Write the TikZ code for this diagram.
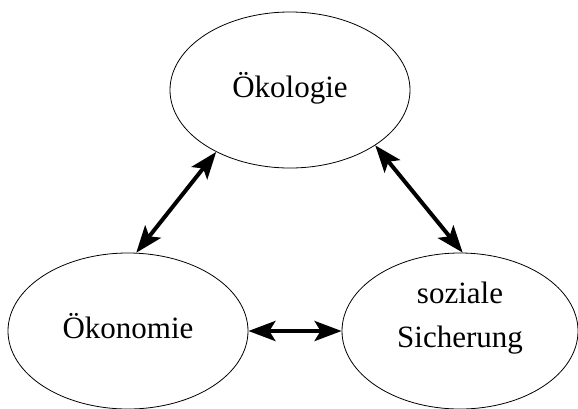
\documentclass[tikz,border=0pt]{standalone}
\usepackage{fontspec}
\setmainfont{Liberation Serif}
\usetikzlibrary{arrows.meta,shapes,positioning}

\begin{document}
\begin{tikzpicture}[x=1pt,y=-1pt]
	\tikzstyle{every node}=[font=\fontsize{31}{44}\selectfont]
	\tikzstyle{bubble}=[draw, ellipse, line width=0.8pt, inner sep=0pt, minimum width=240pt, minimum height=156pt, align=center, text height=22pt, text depth=8pt]
	\tikzstyle{link}=[line width=4pt, {Stealth[length=27pt,width=20pt,inset=6pt]}-{Stealth[length=27pt,width=20pt,inset=6pt]}]
	\useasboundingbox (0,0) rectangle (578,408);
	\node [bubble] (oekol) at (290,90) {Ökologie};
	\node [bubble] (oekon) at (128,331) {Ökonomie};
	\node [bubble, minimum width=236pt, text height=40pt, text depth=8pt] (sozial) at (460,331) {soziale\\Sicherung};
	\draw [link] (oekol.220) -- (oekon.84);
	\draw [link] (oekol.327) -- (sozial.88);
	\draw [link] (oekon.east) -- (sozial.west);
\end{tikzpicture}
\end{document}
